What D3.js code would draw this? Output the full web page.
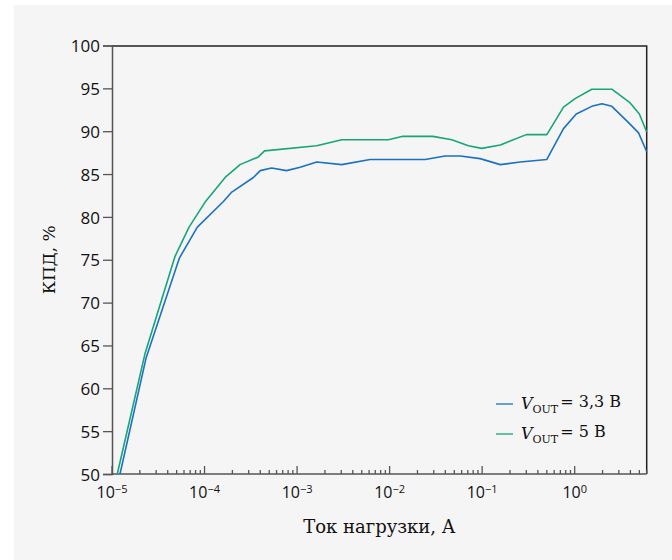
<!DOCTYPE html>
<html>
<head>
<meta charset="utf-8">
<script src="https://cdn.jsdelivr.net/npm/d3@7"></script>
<style>
  body { margin: 0; background: #fff; }
  svg { display: block; }
</style>
</head>
<body>
<div id="chart"></div>
<script>
// chart size and margins
var svgWidth = 672;
var svgHeight = 560;

var margin = { top: 45.5, right: 25.3, bottom: 86, left: 112 };
var width = svgWidth - margin.left - margin.right;
var height = svgHeight - margin.top - margin.bottom;

// data: load current (A) and efficiency (%)
var current33 = [1.22e-5, 2.33e-5, 5.35e-5, 8.36e-5, 1.6e-4, 1.97e-4, 3.37e-4, 4.0e-4, 5.3e-4,
  7.7e-4, 1.08e-3, 1.63e-3, 3.04e-3, 6.15e-3, 2.42e-2, 3.98e-2, 5.8e-2, 9.5e-2, 0.157,
  0.258, 0.50, 0.757, 1.04, 1.53, 1.97, 2.52, 3.82, 4.9, 6.0];
var eff33 = [50, 63.5, 75.2, 78.8, 81.8, 82.9, 84.6, 85.4, 85.7,
  85.4, 85.8, 86.4, 86.1, 86.7, 86.7, 87.1, 87.1, 86.8, 86.1,
  86.4, 86.7, 90.3, 92.0, 92.9, 93.2, 92.9, 91.0, 89.8, 87.6];

var current5 = [1.14e-5, 2.28e-5, 4.8e-5, 6.8e-5, 1.01e-4, 1.67e-4, 2.42e-4, 3.82e-4, 4.45e-4,
  1.63e-3, 3.04e-3, 9.7e-3, 1.39e-2, 2.93e-2, 4.7e-2, 7.1e-2, 9.9e-2, 0.157,
  0.30, 0.50, 0.757, 1.01, 1.53, 2.52, 3.98, 5.0, 6.0];
var eff5 = [50, 64.1, 75.4, 78.8, 81.7, 84.6, 86.1, 87.0, 87.7,
  88.3, 89.0, 89.0, 89.4, 89.4, 89.0, 88.3, 88.0, 88.4,
  89.6, 89.6, 92.8, 93.8, 94.9, 94.9, 93.3, 92.0, 89.9];

var seriesNames = ["3,3 В", "5 В"];
var seriesColors = ["#1b72c0", "#17a57b"];
var yTicks = [50, 55, 60, 65, 70, 75, 80, 85, 90, 95, 100];
var xMajor = [1e-5, 1e-4, 1e-3, 1e-2, 1e-1, 1];
var xExponents = ["−5", "−4", "−3", "−2", "−1", "0"];

var svg = d3.select("#chart")
  .append("svg")
  .attr("width", svgWidth)
  .attr("height", svgHeight);

// grey panel
svg.append("rect")
  .attr("x", 14)
  .attr("y", 5)
  .attr("width", svgWidth - 14)
  .attr("height", svgHeight - 5)
  .attr("fill", "#f5f5f5");

var chartGroup = svg.append("g")
  .attr("transform", `translate(${margin.left}, ${margin.top})`);

// scales
var xScale = d3.scaleLog().domain([1e-5, 6]).range([0, width]);
var yScale = d3.scaleLinear().domain([50, 100]).range([height, 0]);

// frame top and right
chartGroup.append("path")
  .attr("d", `M0,0.5H${width}V${height}`)
  .attr("fill", "none")
  .attr("stroke", "#222")
  .attr("stroke-width", 1.5);

// y axis
var yAxis = d3.axisLeft(yScale).tickValues(yTicks).tickSize(9).tickPadding(3);
var yG = chartGroup.append("g").call(yAxis);
yG.select(".domain").attr("stroke", "#555").attr("stroke-width", 1.5);
yG.selectAll(".tick line").attr("stroke", "#555").attr("stroke-width", 1.3);
yG.selectAll(".tick text")
  .attr("font-family", "'Open Sans', sans-serif")
  .attr("font-size", "17px")
  .attr("fill", "#111")
  .attr("dy", "0.36em");

// x axis: minor ticks inside
var minorTicks = [];
for (var e = -5; e <= 0; e++) {
  for (var m = 2; m <= 9; m++) {
    var v = m * Math.pow(10, e);
    if (v <= 6) minorTicks.push(v);
  }
}
var xG = chartGroup.append("g").attr("transform", `translate(0, ${height})`);
xG.append("line")
  .attr("x1", 0).attr("x2", width)
  .attr("stroke", "#555").attr("stroke-width", 1.5);
xG.selectAll("line.minor")
  .data(minorTicks)
  .enter()
  .append("line")
  .attr("class", "minor")
  .attr("x1", d => xScale(d)).attr("x2", d => xScale(d))
  .attr("y1", 0).attr("y2", -4)
  .attr("stroke", "#555").attr("stroke-width", 1.3);
xG.selectAll("line.major")
  .data(xMajor)
  .enter()
  .append("line")
  .attr("class", "major")
  .attr("x1", d => xScale(d)).attr("x2", d => xScale(d))
  .attr("y1", 0).attr("y2", -8)
  .attr("stroke", "#555").attr("stroke-width", 1.3);

var xLabels = xG.selectAll("text.xlab")
  .data(xMajor)
  .enter()
  .append("text")
  .attr("class", "xlab")
  .attr("x", d => xScale(d))
  .attr("y", 24)
  .attr("text-anchor", "middle")
  .attr("font-family", "'Open Sans', sans-serif")
  .attr("font-size", "16px")
  .attr("fill", "#111");
xLabels.append("tspan").text("10");
xLabels.append("tspan")
  .attr("dy", "-0.45em")
  .attr("font-size", "11px")
  .text((d, i) => xExponents[i]);

// lines
var line = d3.line()
  .x(d => xScale(d[0]))
  .y(d => yScale(d[1]));

var series = [
  d3.zip(current33, eff33),
  d3.zip(current5, eff5)
];

chartGroup.selectAll("path.series")
  .data(series)
  .enter()
  .append("path")
  .attr("class", "series")
  .attr("d", line)
  .attr("fill", "none")
  .attr("stroke", (d, i) => seriesColors[i])
  .attr("stroke-width", 1.6)
  .attr("stroke-linejoin", "round");

// legend
var legend = svg.selectAll("g.legend")
  .data(seriesNames)
  .enter()
  .append("g")
  .attr("class", "legend")
  .attr("transform", (d, i) => `translate(496, ${404 + i * 30})`);

legend.append("line")
  .attr("x1", 0).attr("x2", 17)
  .attr("stroke", (d, i) => seriesColors[i])
  .attr("stroke-width", 1.3);

var legText = legend.append("text")
  .attr("x", 25)
  .attr("y", 5)
  .attr("font-family", "'DejaVu Serif', serif")
  .attr("font-size", "16px")
  .attr("fill", "#111");
legText.append("tspan").attr("font-style", "italic").text("V");
legText.append("tspan")
  .attr("font-size", "11px")
  .attr("dy", "0.35em")
  .text("OUT");
legText.append("tspan")
  .attr("dy", "-0.35em")
  .attr("dx", "2")
  .text(d => "= " + d);

// axis titles
svg.append("text")
  .attr("x", margin.left + width / 2)
  .attr("y", 533)
  .attr("text-anchor", "middle")
  .attr("font-family", "'DejaVu Serif', serif")
  .attr("font-size", "18px")
  .attr("fill", "#111")
  .text("Ток нагрузки, А");

svg.append("text")
  .attr("transform", `translate(55, ${margin.top + height / 2}) rotate(-90)`)
  .attr("text-anchor", "middle")
  .attr("font-family", "'DejaVu Serif', serif")
  .attr("font-size", "17px")
  .attr("fill", "#111")
  .text("КПД, %");
</script>
</body>
</html>
